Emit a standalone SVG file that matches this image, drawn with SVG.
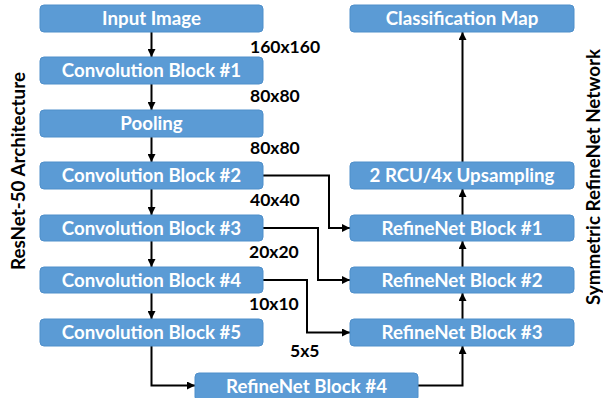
<svg xmlns="http://www.w3.org/2000/svg" width="603" height="398" viewBox="0 0 603 398">
<style>
.box{fill:#5b9bd5;stroke:#4f8fca;stroke-width:1}
.bt{font-family:Lato,"Open Sans","Liberation Sans",sans-serif;font-weight:bold;font-size:18.7px;fill:#ffffff;text-anchor:middle}
.lb{font-family:Lato,"Open Sans","Liberation Sans",sans-serif;font-weight:bold;font-size:17.5px;fill:#000000}
.side{font-family:Lato,"Open Sans","Liberation Sans",sans-serif;font-weight:bold;font-size:18.8px;fill:#000000;text-anchor:middle}
.c{fill:none;stroke:#000000;stroke-width:2;marker-end:url(#ah)}
</style>
<defs>
<marker id="ah" viewBox="0 0 10 10" refX="10" refY="5" markerWidth="4" markerHeight="4" orient="auto" markerUnits="strokeWidth">
<path d="M0,0 L10,5 L0,10 z" fill="#000000"/>
</marker>
</defs>
<rect width="603" height="398" fill="#ffffff"/>
<g id="connectors">
<path class="c" d="M151.5,32 V57"/>
<path class="c" d="M151.5,84 V110"/>
<path class="c" d="M151.5,137 V162"/>
<path class="c" d="M151.5,189 V215"/>
<path class="c" d="M151.5,241 V267"/>
<path class="c" d="M151.5,293 V319"/>
<path class="c" d="M151.5,346 V385.5 H195"/>
<path class="c" d="M418,385.5 H462.5 V346"/>
<path class="c" d="M462.5,319 V293"/>
<path class="c" d="M462.5,267 V241"/>
<path class="c" d="M462.5,215 V189"/>
<path class="c" d="M462.5,162 V32"/>
<path class="c" d="M263,175.5 H329 V228 H350"/>
<path class="c" d="M263,228 H318 V280 H350"/>
<path class="c" d="M263,280 H307 V332.5 H350"/>
</g>
<g id="input-image"><rect class="box" x="40" y="5" width="223" height="27" rx="4"/><text class="bt" x="151.5" y="25">Input Image</text></g>
<g id="conv1"><rect class="box" x="40" y="57" width="223" height="27" rx="4"/><text class="bt" x="151.5" y="77">Convolution Block #1</text></g>
<g id="pooling"><rect class="box" x="40" y="110" width="223" height="27" rx="4"/><text class="bt" x="151.5" y="130">Pooling</text></g>
<g id="conv2"><rect class="box" x="40" y="162" width="223" height="27" rx="4"/><text class="bt" x="151.5" y="182">Convolution Block #2</text></g>
<g id="conv3"><rect class="box" x="40" y="215" width="223" height="26" rx="4"/><text class="bt" x="151.5" y="234.5">Convolution Block #3</text></g>
<g id="conv4"><rect class="box" x="40" y="267" width="223" height="26" rx="4"/><text class="bt" x="151.5" y="286.5">Convolution Block #4</text></g>
<g id="conv5"><rect class="box" x="40" y="319" width="223" height="27" rx="4"/><text class="bt" x="151.5" y="339">Convolution Block #5</text></g>
<g id="refinenet4"><rect class="box" x="195" y="373" width="223" height="28" rx="4"/><text class="bt" x="306.5" y="393">RefineNet Block #4</text></g>
<g id="classification-map"><rect class="box" x="350" y="5" width="224" height="27" rx="4"/><text class="bt" x="462" y="25">Classification Map</text></g>
<g id="rcu-upsampling"><rect class="box" x="350" y="162" width="224" height="27" rx="4"/><text class="bt" x="462" y="182">2 RCU/4x Upsampling</text></g>
<g id="refinenet1"><rect class="box" x="350" y="215" width="224" height="26" rx="4"/><text class="bt" x="462" y="234.5">RefineNet Block #1</text></g>
<g id="refinenet2"><rect class="box" x="350" y="267" width="224" height="26" rx="4"/><text class="bt" x="462" y="286.5">RefineNet Block #2</text></g>
<g id="refinenet3"><rect class="box" x="350" y="319" width="224" height="27" rx="4"/><text class="bt" x="462" y="339">RefineNet Block #3</text></g>
<g id="labels">
<text class="lb" x="250" y="53">160x160</text>
<text class="lb" x="250" y="102">80x80</text>
<text class="lb" x="250" y="154">80x80</text>
<text class="lb" x="250" y="206">40x40</text>
<text class="lb" x="249" y="258">20x20</text>
<text class="lb" x="249" y="310">10x10</text>
<text class="lb" x="290" y="357">5x5</text>
<text class="side" transform="translate(25,171) rotate(-90)">ResNet-50 Architecture</text>
<text class="side" transform="translate(600,177) rotate(-90)">Symmetric RefineNet Network</text>
</g>
</svg>
